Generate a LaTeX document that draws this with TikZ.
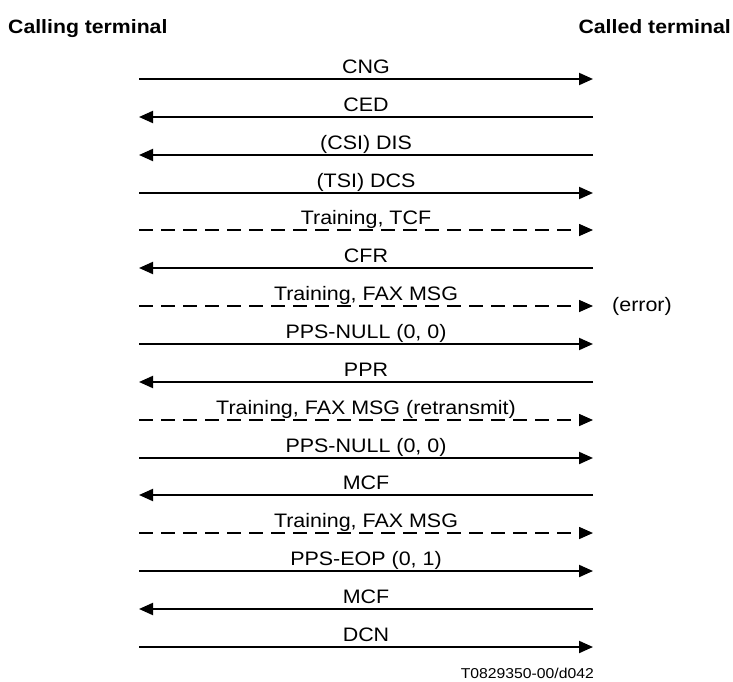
\documentclass[tikz,border=0pt]{standalone}
\usepackage{fontspec}
\setmainfont{Liberation Sans}[FakeStretch=1.1]
\usetikzlibrary{arrows.meta}
\begin{document}
\begin{tikzpicture}[x=1pt,y=-1pt,
  msg/.style={line width=2pt,-{Triangle[length=14pt,width=12pt]}},
  dmsg/.style={msg,line width=1.6pt,dash pattern=on 14pt off 8pt},
  lbl/.style={font=\fontsize{19.5}{22}\selectfont,anchor=base,inner sep=0pt},
  head/.style={font=\fontsize{19.3}{22}\selectfont\bfseries,inner sep=0pt,anchor=base}]
\useasboundingbox (0,0) rectangle (733,682);
\node[head,anchor=base west] (calling) at (8,34) {Calling terminal};
\node[head,anchor=base east] (called) at (731,34) {Called terminal};
\foreach \i/\t/\d/\s in {
  1/CNG/r/msg, 2/CED/l/msg, 3/(CSI) DIS/l/msg, 4/(TSI) DCS/r/msg,
  5/{Training, TCF}/r/dmsg, 6/CFR/l/msg, 7/{Training, FAX MSG}/r/dmsg,
  8/{PPS-NULL (0, 0)}/r/msg, 9/PPR/l/msg, 10/{Training, FAX MSG (retransmit)}/r/dmsg,
  11/{PPS-NULL (0, 0)}/r/msg, 12/MCF/l/msg, 13/{Training, FAX MSG}/r/dmsg,
  14/{PPS-EOP (0, 1)}/r/msg, 15/MCF/l/msg, 16/DCN/r/msg}{
  \pgfmathsetmacro{\yy}{round(79+(\i-1)*37.85)}
  \coordinate (L\i) at (139,\yy);
  \coordinate (R\i) at (593,\yy);
  \node[lbl] (t\i) at (366,\yy-5.5) {\t};
  \if\d r
    \draw[\s] (L\i) -- (R\i);
  \else
    \draw[\s] (R\i) -- (L\i);
  \fi
}
\node[font=\fontsize{19.5}{22}\selectfont,anchor=west,inner sep=0pt] (err) at (612,306) {(error)};
\node[font=\fontsize{14.3}{17}\selectfont,anchor=base east,inner sep=0pt] (fig) at (594,678) {T0829350-00/d042};
\end{tikzpicture}
\end{document}
